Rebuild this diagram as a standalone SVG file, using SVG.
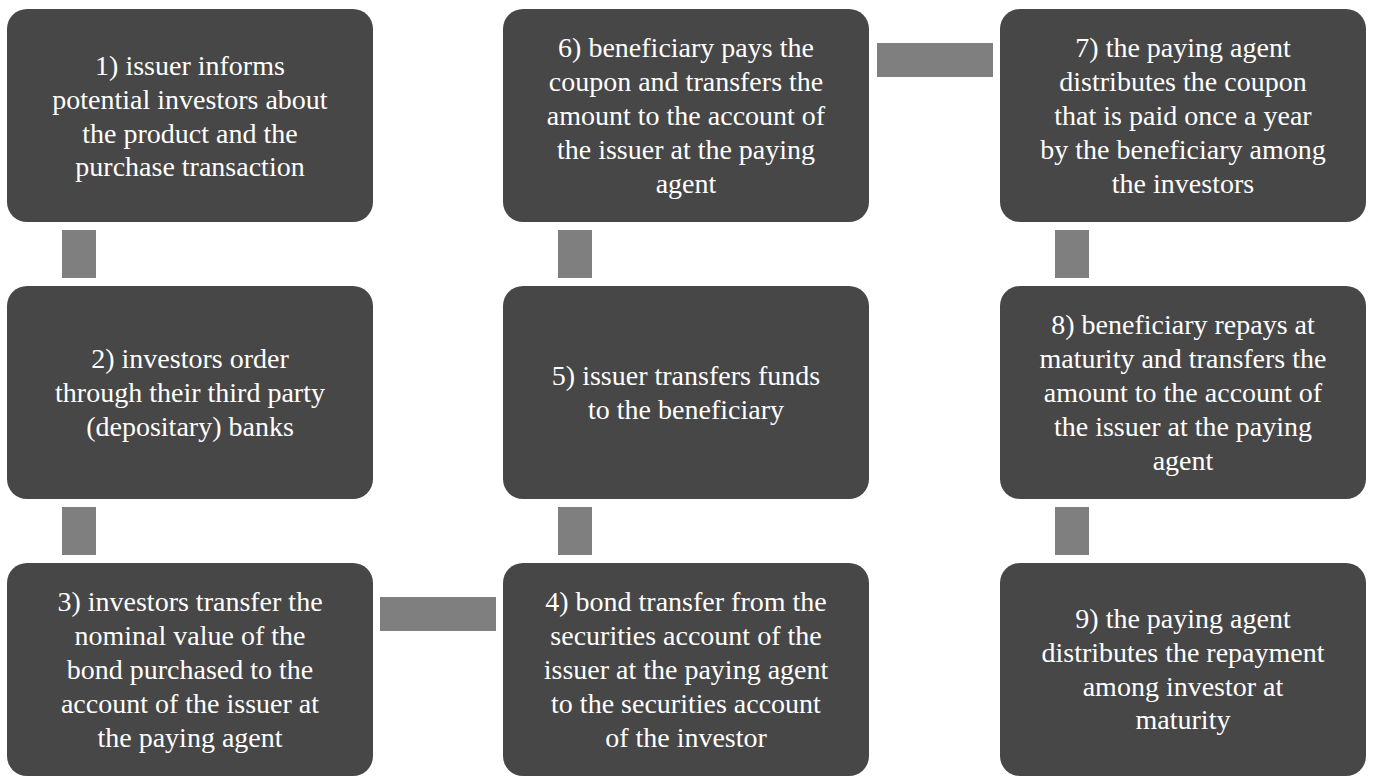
<svg xmlns="http://www.w3.org/2000/svg" width="1375" height="784" viewBox="0 0 1375 784">
<style>
.b{fill:#474747}
.c{fill:#7f7f7f}
text{font-family:"Liberation Serif",serif;font-size:28px;fill:#fff;text-anchor:middle}
</style>
<rect width="1375" height="784" fill="#fff"/>
<g id="connectors">
<rect class="c" x="62" y="230" width="34" height="48"/>
<rect class="c" x="62" y="507" width="34" height="48"/>
<rect class="c" x="558" y="230" width="34" height="48"/>
<rect class="c" x="558" y="507" width="34" height="48"/>
<rect class="c" x="1055" y="230" width="34" height="48"/>
<rect class="c" x="1055" y="507" width="34" height="48"/>
<rect class="c" x="380" y="597" width="116" height="34"/>
<rect class="c" x="877" y="43" width="116" height="34"/>
</g>
<g id="n1"><rect class="b" x="7" y="9" width="366" height="213" rx="20"/>
<text x="190" y="75">1) issuer informs</text><text x="190" y="109">potential investors about</text><text x="190" y="143">the product and the</text><text x="190" y="176">purchase transaction</text></g>
<g id="n2"><rect class="b" x="7" y="286" width="366" height="213" rx="20"/>
<text x="190" y="368">2) investors order</text><text x="190" y="402">through their third party</text><text x="190" y="436">(depositary) banks</text></g>
<g id="n3"><rect class="b" x="7" y="563" width="366" height="213" rx="20"/>
<text x="190" y="611">3) investors transfer the</text><text x="190" y="645">nominal value of the</text><text x="190" y="679">bond purchased to the</text><text x="190" y="713">account of the issuer at</text><text x="190" y="747">the paying agent</text></g>
<g id="n4"><rect class="b" x="503" y="563" width="366" height="213" rx="20"/>
<text x="686" y="611">4) bond transfer from the</text><text x="686" y="645">securities account of the</text><text x="686" y="679">issuer at the paying agent</text><text x="686" y="713">to the securities account</text><text x="686" y="747">of the investor</text></g>
<g id="n5"><rect class="b" x="503" y="286" width="366" height="213" rx="20"/>
<text x="686" y="385">5) issuer transfers funds</text><text x="686" y="419">to the beneficiary</text></g>
<g id="n6"><rect class="b" x="503" y="9" width="366" height="213" rx="20"/>
<text x="686" y="57">6) beneficiary pays the</text><text x="686" y="91">coupon and transfers the</text><text x="686" y="125">amount to the account of</text><text x="686" y="159">the issuer at the paying</text><text x="686" y="193">agent</text></g>
<g id="n7"><rect class="b" x="1000" y="9" width="366" height="213" rx="20"/>
<text x="1183" y="57">7) the paying agent</text><text x="1183" y="91">distributes the coupon</text><text x="1183" y="125">that is paid once a year</text><text x="1183" y="159">by the beneficiary among</text><text x="1183" y="193">the investors</text></g>
<g id="n8"><rect class="b" x="1000" y="286" width="366" height="213" rx="20"/>
<text x="1183" y="334">8) beneficiary repays at</text><text x="1183" y="368">maturity and transfers the</text><text x="1183" y="402">amount to the account of</text><text x="1183" y="436">the issuer at the paying</text><text x="1183" y="470">agent</text></g>
<g id="n9"><rect class="b" x="1000" y="563" width="366" height="213" rx="20"/>
<text x="1183" y="628">9) the paying agent</text><text x="1183" y="662">distributes the repayment</text><text x="1183" y="696">among investor at</text><text x="1183" y="729">maturity</text></g>
</svg>
